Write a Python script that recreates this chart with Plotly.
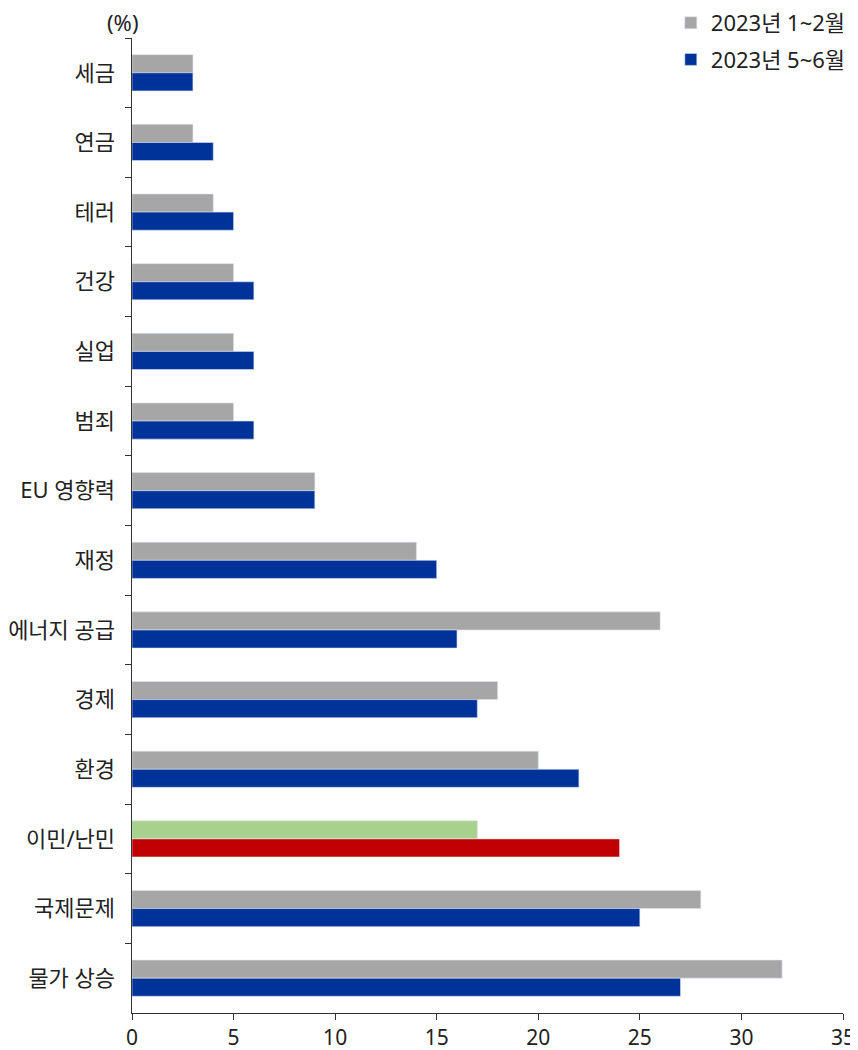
import plotly.graph_objects as go

categories = ["세금", "연금", "테러", "건강", "실업", "범죄", "EU 영향력", "재정",
              "에너지 공급", "경제", "환경", "이민/난민", "국제문제", "물가 상승"]
jan_feb = [3, 3, 4, 5, 5, 5, 9, 14, 26, 18, 20, 17, 28, 32]
may_jun = [3, 4, 5, 6, 6, 6, 9, 15, 16, 17, 22, 24, 25, 27]
highlight = "이민/난민"

gray, blue, green, red = "#A6A6A6", "#003399", "#A9D18E", "#C00000"
c1 = [green if c == highlight else gray for c in categories]
c2 = [red if c == highlight else blue for c in categories]

FONT = "Noto Sans, Noto Sans CJK KR"

fig = go.Figure()
fig.add_trace(go.Bar(y=categories, x=jan_feb, orientation="h", name="2023년 1~2월",
                     legendgroup="a",
                     marker=dict(color=c1, line=dict(width=0.6, color="#DDE3F0"))))
fig.add_trace(go.Bar(y=categories, x=may_jun, orientation="h", name="2023년 5~6월",
                     legendgroup="b",
                     marker=dict(color=c2, line=dict(width=0.6, color="#DDE3F0"))))

# page body has an 8px margin, so the figure is 850x1042 drawn at (8, 8)
fig.update_layout(
    width=850, height=1042,
    margin=dict(l=124, r=15, t=5, b=37, autoexpand=False),
    barmode="group", bargap=0.48, bargroupgap=0,
    plot_bgcolor="white", paper_bgcolor="white",
    font=dict(family=FONT, size=21, color="#222222"),
    legend=dict(x=1.011, y=1.011, xanchor="right", yanchor="top",
                traceorder="grouped", font=dict(size=22), itemwidth=30,
                tracegroupgap=5, bgcolor="rgba(0,0,0,0)"),
    showlegend=True,
    xaxis=dict(range=[0, 35], dtick=5, showgrid=False, zeroline=False,
               showline=True, linecolor="#333333", linewidth=1.2,
               ticks="outside", ticklen=6, tickcolor="#333333",
               tickfont=dict(size=21), automargin=False),
    yaxis=dict(autorange="reversed", showgrid=False, showline=True,
               linecolor="#333333", linewidth=1.2, ticks="outside",
               tickson="boundaries", ticklen=6, tickcolor="#333333",
               tickfont=dict(size=22), ticksuffix="  ", automargin=False,
               domain=[0, 0.975]),
)
fig.add_annotation(text="(%)", xref="paper", yref="paper", x=-0.014, y=0.991,
                   xanchor="center", yanchor="middle", showarrow=False,
                   font=dict(size=22, family=FONT))
fig.write_html("out.html")
